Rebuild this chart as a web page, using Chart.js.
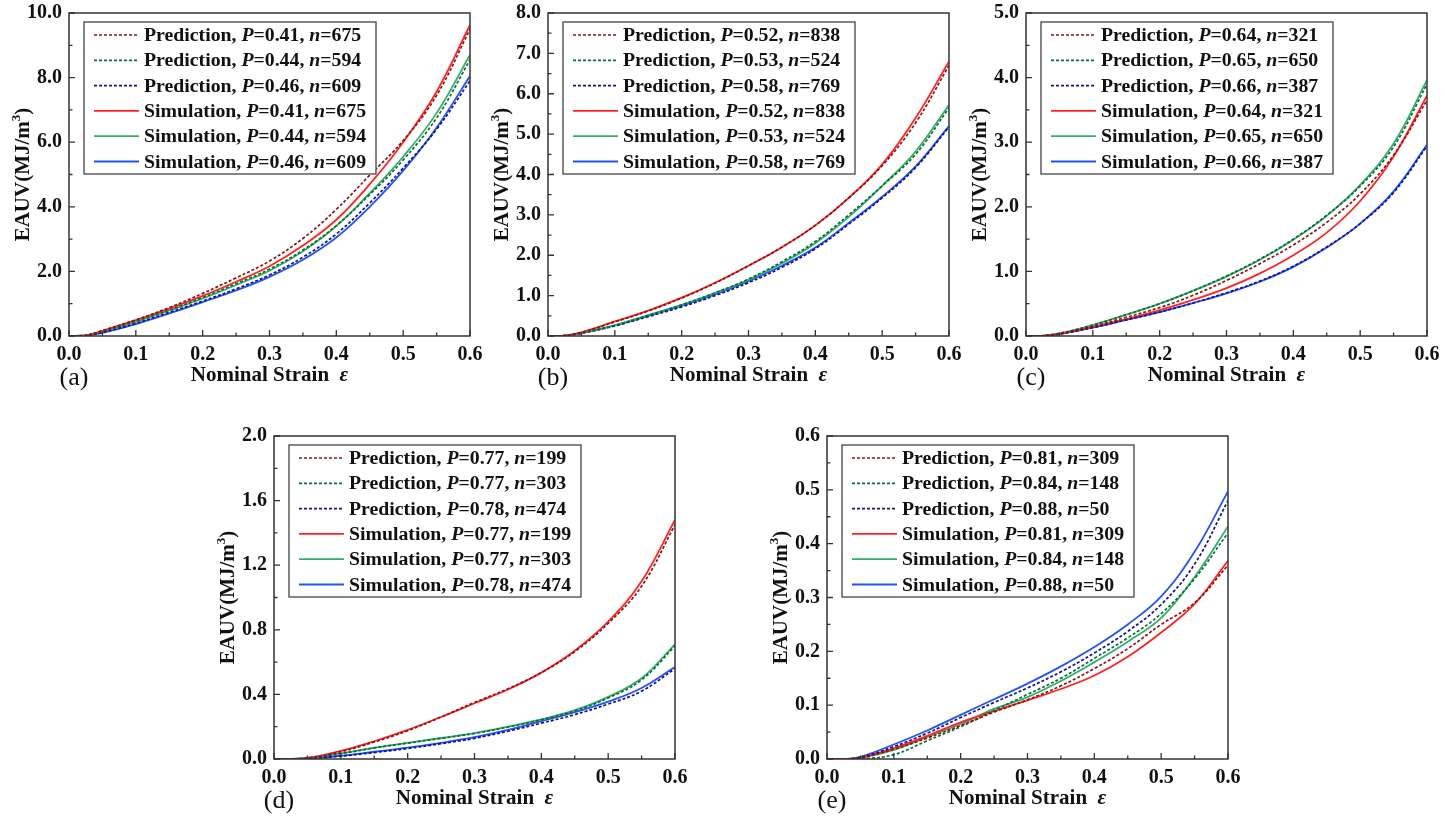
<!DOCTYPE html>
<html><head><meta charset="utf-8">
<script src="https://cdn.jsdelivr.net/npm/chart.js@4.4.1/dist/chart.umd.min.js"></script>
<style>
html,body{margin:0;padding:0;background:#fff}
body{width:1445px;height:830px;position:relative;overflow:hidden}
canvas{position:absolute}
</style></head><body>
<canvas id="ca" width="500" height="417" style="left:0px;top:-17px"></canvas>
<canvas id="cb" width="500" height="417" style="left:479px;top:-17px"></canvas>
<canvas id="cc" width="500" height="417" style="left:957px;top:-17px"></canvas>
<canvas id="cd" width="500" height="417" style="left:205px;top:406px"></canvas>
<canvas id="ce" width="500" height="417" style="left:758px;top:406px"></canvas>
<script>
// ---- shared strain samples ----
const strain = [0, 0.025, 0.05, 0.1, 0.15, 0.2, 0.25, 0.3, 0.35, 0.4, 0.45, 0.5, 0.55, 0.6];
const xTicks = [0, 0.1, 0.2, 0.3, 0.4, 0.5, 0.6];

// ---- panel (a) ----
const aLegendP = ['0.41', '0.44', '0.46'];
const aLegendN = ['675', '594', '609'];
const aPred1 = [0, 0.02, 0.17, 0.50, 0.88, 1.32, 1.80, 2.32, 3.02, 3.92, 4.98, 6.05, 7.45, 9.50];
const aPred2 = [0, 0.02, 0.15, 0.46, 0.80, 1.19, 1.62, 2.07, 2.66, 3.42, 4.38, 5.45, 6.75, 8.55];
const aPred3 = [0, 0.01, 0.11, 0.39, 0.73, 1.08, 1.46, 1.89, 2.44, 3.16, 4.12, 5.20, 6.40, 7.90];
const aSim1  = [0, 0.02, 0.16, 0.49, 0.85, 1.24, 1.68, 2.16, 2.80, 3.60, 4.70, 6.00, 7.56, 9.63];
const aSim2  = [0, 0.02, 0.14, 0.44, 0.79, 1.16, 1.58, 2.02, 2.62, 3.40, 4.42, 5.55, 6.90, 8.70];
const aSim3  = [0, 0.01, 0.10, 0.37, 0.70, 1.05, 1.41, 1.83, 2.36, 3.05, 4.00, 5.12, 6.45, 8.05];

// ---- panel (b) ----
const bLegendP = ['0.52', '0.53', '0.58'];
const bLegendN = ['838', '524', '769'];
const bPred1 = [0, 0.01, 0.09, 0.35, 0.62, 0.94, 1.31, 1.74, 2.20, 2.74, 3.42, 4.22, 5.28, 6.70];
const bPred2 = [0, 0.01, 0.07, 0.26, 0.51, 0.77, 1.07, 1.41, 1.84, 2.34, 3.00, 3.72, 4.50, 5.65];
const bPred3 = [0, 0.01, 0.07, 0.25, 0.48, 0.72, 1.00, 1.32, 1.70, 2.16, 2.77, 3.42, 4.17, 5.18];
const bSim1  = [0, 0.01, 0.09, 0.36, 0.63, 0.95, 1.32, 1.74, 2.20, 2.74, 3.42, 4.25, 5.40, 6.80];
const bSim2  = [0, 0.01, 0.08, 0.27, 0.52, 0.77, 1.06, 1.39, 1.80, 2.30, 2.95, 3.72, 4.57, 5.72];
const bSim3  = [0, 0.01, 0.07, 0.26, 0.50, 0.75, 1.03, 1.36, 1.74, 2.19, 2.80, 3.45, 4.20, 5.20];

// ---- panel (c) ----
const cLegendP = ['0.64', '0.65', '0.66'];
const cLegendN = ['321', '650', '387'];
const cPred1 = [0, 0.004, 0.04, 0.15, 0.29, 0.44, 0.63, 0.86, 1.12, 1.41, 1.76, 2.20, 2.80, 3.65];
const cPred2 = [0, 0.005, 0.04, 0.17, 0.33, 0.50, 0.70, 0.93, 1.19, 1.50, 1.87, 2.32, 2.93, 3.90];
const cPred3 = [0, 0.003, 0.03, 0.13, 0.25, 0.37, 0.51, 0.67, 0.85, 1.08, 1.38, 1.74, 2.22, 2.94];
const cSim1  = [0, 0.003, 0.03, 0.14, 0.26, 0.40, 0.56, 0.74, 0.97, 1.25, 1.60, 2.09, 2.78, 3.72];
const cSim2  = [0, 0.005, 0.04, 0.17, 0.33, 0.50, 0.70, 0.92, 1.18, 1.49, 1.86, 2.34, 2.98, 3.96];
const cSim3  = [0, 0.003, 0.03, 0.13, 0.25, 0.37, 0.51, 0.66, 0.84, 1.07, 1.37, 1.74, 2.24, 2.96];

// ---- panel (d) ----
const dLegendP = ['0.77', '0.77', '0.78'];
const dLegendN = ['199', '303', '474'];
const dPred1 = [0, 0, 0.004, 0.045, 0.105, 0.175, 0.26, 0.35, 0.435, 0.535, 0.665, 0.84, 1.07, 1.45];
const dPred2 = [0, 0, 0.006, 0.033, 0.068, 0.098, 0.128, 0.158, 0.198, 0.243, 0.298, 0.378, 0.49, 0.70];
const dPred3 = [0, 0, 0.002, 0.018, 0.040, 0.065, 0.095, 0.128, 0.172, 0.222, 0.275, 0.34, 0.42, 0.56];
const dSim1  = [0, 0, 0.005, 0.05, 0.11, 0.18, 0.26, 0.345, 0.43, 0.535, 0.67, 0.85, 1.10, 1.48];
const dSim2  = [0, 0, 0.008, 0.035, 0.07, 0.10, 0.13, 0.16, 0.20, 0.245, 0.302, 0.385, 0.50, 0.71];
const dSim3  = [0, 0, 0.003, 0.02, 0.045, 0.07, 0.10, 0.135, 0.18, 0.235, 0.29, 0.355, 0.44, 0.57];

// ---- panel (e) ----
const eLegendP = ['0.81', '0.84', '0.88'];
const eLegendN = ['309', '148', '50'];
const ePred1 = [0, 0, 0.002, 0.018, 0.039, 0.062, 0.087, 0.11, 0.136, 0.168, 0.205, 0.25, 0.29, 0.36];
const ePred2 = [0, 0, 0, 0.008, 0.034, 0.06, 0.09, 0.12, 0.15, 0.187, 0.225, 0.27, 0.335, 0.42];
const ePred3 = [0, 0, 0.003, 0.023, 0.048, 0.077, 0.105, 0.132, 0.162, 0.197, 0.237, 0.287, 0.362, 0.48];
const eSim1  = [0, 0, 0.002, 0.02, 0.043, 0.068, 0.089, 0.109, 0.13, 0.155, 0.19, 0.235, 0.288, 0.368];
const eSim2  = [0, 0, 0.002, 0.017, 0.041, 0.065, 0.093, 0.115, 0.145, 0.18, 0.218, 0.262, 0.338, 0.432];
const eSim3  = [0, 0, 0.004, 0.027, 0.053, 0.082, 0.111, 0.14, 0.172, 0.208, 0.25, 0.302, 0.385, 0.497];

const predColors = ['#8B1414', '#0B6B3A', '#12128A'];
const simColors  = ['#FF2222', '#32AE66', '#2352F2'];
const FONT = "'Liberation Serif','Times New Roman',serif";

function richText(ctx, parts, x, y, align) {
  let w = 0;
  parts.forEach(p => { ctx.font = p[1]; w += ctx.measureText(p[0]).width; });
  let cx = align === 'center' ? x - w / 2 : x;
  ctx.textBaseline = 'middle';
  ctx.textAlign = 'left';
  parts.forEach(p => { ctx.font = p[1]; ctx.fillText(p[0], cx, y + (p[2] || 0)); cx += ctx.measureText(p[0]).width; });
  return w;
}

const decorPlugin = {
  id: 'decor',
  afterDraw(chart, args, opts) {
    const ctx = chart.ctx;
    const {left, right, top, bottom} = chart.chartArea;
    const xs = chart.scales.x, ys = chart.scales.y;
    ctx.save();
    // frame
    ctx.strokeStyle = '#333';
    ctx.lineWidth = 1.5;
    ctx.strokeRect(left, top, right - left, bottom - top);
    // inward ticks
    ctx.lineWidth = 1.3;
    ctx.beginPath();
    xTicks.forEach((v, i) => {
      const px = xs.getPixelForValue(v);
      ctx.moveTo(px, bottom); ctx.lineTo(px, bottom - 6);
      if (i < xTicks.length - 1) {
        const pm = xs.getPixelForValue(v + 0.05);
        ctx.moveTo(pm, bottom); ctx.lineTo(pm, bottom - 3.5);
      }
    });
    const step = opts.yStep;
    for (let v = 0; v <= opts.yMax + 1e-9; v += step) {
      const py = ys.getPixelForValue(v);
      ctx.moveTo(left, py); ctx.lineTo(left + 6, py);
      if (v + step <= opts.yMax + 1e-9) {
        const pm = ys.getPixelForValue(v + step / 2);
        ctx.moveTo(left, pm); ctx.lineTo(left + 3.5, pm);
      }
    }
    ctx.stroke();

    // legend
    const bx = left + 15, by = top + 9, bw = 292, bh = 152;
    ctx.fillStyle = '#fff';
    ctx.fillRect(bx, by, bw, bh);
    ctx.strokeStyle = '#444';
    ctx.lineWidth = 1.3;
    ctx.strokeRect(bx, by, bw, bh);
    const bold = 'bold 19.8px ' + FONT, boldIt = 'italic bold 19.8px ' + FONT;
    const ds = chart.data.datasets;
    ds.forEach((d, i) => {
      const ry = by + 13 + i * 25.3;
      ctx.strokeStyle = d.borderColor;
      ctx.lineWidth = d.borderWidth;
      ctx.setLineDash(d.borderDash || []);
      ctx.beginPath(); ctx.moveTo(bx + 10, ry); ctx.lineTo(bx + 55, ry); ctx.stroke();
      ctx.setLineDash([]);
      ctx.fillStyle = '#111';
      richText(ctx, [[d.kind + ', ', bold], ['P', boldIt], ['=' + d.pv + ', ', bold], ['n', boldIt], ['=' + d.nv, bold]], bx + 60, ry + 1, 'left');
    });

    // axis titles
    ctx.fillStyle = '#111';
    const tb = 'bold 21px ' + FONT;
    richText(ctx, [['Nominal Strain  ', tb], ['\u03B5', 'italic bold 21px ' + FONT]], (left + right) / 2, bottom + 40, 'center');
    ctx.save();
    ctx.translate(left - 45, (top + bottom) / 2);
    ctx.rotate(-Math.PI / 2);
    richText(ctx, [['EAUV(MJ/m', tb], ['3', 'bold 13px ' + FONT, -7], [')', tb]], 0, 0, 'center');
    ctx.restore();
    // panel label
    ctx.font = '26px ' + FONT;
    ctx.textAlign = 'center';
    ctx.textBaseline = 'middle';
    ctx.fillText(opts.label, left + 5, bottom + 42);
    ctx.restore();
  }
};

function pts(arr) { return strain.map((x, i) => ({x: x, y: arr[i]})); }

function makePanel(id, label, yMax, yStep, legP, legN, preds, sims) {
  const datasets = [];
  preds.forEach((a, i) => datasets.push({
    kind: 'Prediction', pv: legP[i], nv: legN[i], data: pts(a),
    borderColor: predColors[i], borderWidth: 1.7, borderDash: [3, 2]
  }));
  sims.forEach((a, i) => datasets.push({
    kind: 'Simulation', pv: legP[i], nv: legN[i], data: pts(a),
    borderColor: simColors[i], borderWidth: 1.8
  }));
  new Chart(document.getElementById(id), {
    type: 'line',
    data: {datasets: datasets},
    options: {
      responsive: false, animation: false, devicePixelRatio: 1,
      layout: {padding: {top: 30, right: 30, left: 0, bottom: 0}},
      elements: {point: {radius: 0}, line: {tension: 0.4, fill: false}},
      plugins: {legend: {display: false}, tooltip: {enabled: false}, decor: {label: label, yMax: yMax, yStep: yStep}},
      scales: {
        x: {
          type: 'linear', min: 0, max: 0.6,
          afterFit: s => { s.height = 64; },
          grid: {display: false, drawTicks: false},
          border: {display: false},
          ticks: {stepSize: 0.1, padding: 7, color: '#111', font: {family: FONT, weight: 'bold', size: 20},
                  callback: v => Number(v).toFixed(1), maxRotation: 0, autoSkip: false}
        },
        y: {
          type: 'linear', min: 0, max: yMax,
          afterFit: s => { s.width = 69; },
          grid: {display: false, drawTicks: false},
          border: {display: false},
          ticks: {stepSize: yStep, padding: 7, color: '#111', font: {family: FONT, weight: 'bold', size: 20},
                  callback: v => Number(v).toFixed(1), autoSkip: false}
        }
      }
    },
    plugins: [decorPlugin]
  });
}

makePanel('ca', '(a)', 10, 2, aLegendP, aLegendN, [aPred1, aPred2, aPred3], [aSim1, aSim2, aSim3]);
makePanel('cb', '(b)', 8, 1, bLegendP, bLegendN, [bPred1, bPred2, bPred3], [bSim1, bSim2, bSim3]);
makePanel('cc', '(c)', 5, 1, cLegendP, cLegendN, [cPred1, cPred2, cPred3], [cSim1, cSim2, cSim3]);
makePanel('cd', '(d)', 2, 0.4, dLegendP, dLegendN, [dPred1, dPred2, dPred3], [dSim1, dSim2, dSim3]);
makePanel('ce', '(e)', 0.6, 0.1, eLegendP, eLegendN, [ePred1, ePred2, ePred3], [eSim1, eSim2, eSim3]);
</script>
</body></html>
